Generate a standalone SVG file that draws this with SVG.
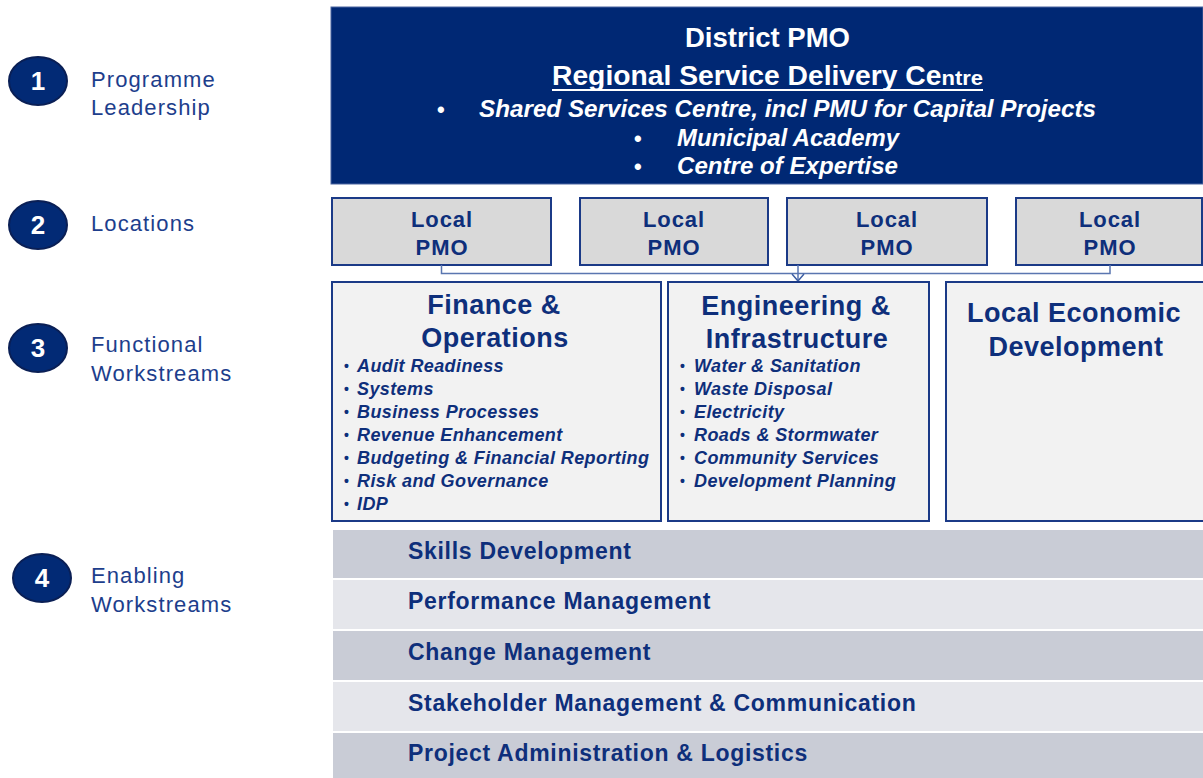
<svg xmlns="http://www.w3.org/2000/svg" width="1203" height="778" viewBox="0 0 1203 778">
  <defs>
    <style>
      .lbl { font-family: "Liberation Sans", Arial, sans-serif; font-size: 22px; fill: #1d3e8c; letter-spacing: 1.1px; }
      .num { font-family: "Liberation Sans", Arial, sans-serif; font-size: 26px; font-weight: bold; fill: #ffffff; text-anchor: middle; }
      .badge { fill: #022a75; stroke: #0a1f55; stroke-width: 2; }
      .hdr { font-family: "Liberation Sans", Arial, sans-serif; font-weight: bold; fill: #ffffff; }
      .hdr-i { font-family: "Liberation Sans", Arial, sans-serif; font-weight: bold; font-style: italic; font-size: 24px; fill: #ffffff; }
      .pmo { fill: #d9d9d9; stroke: #1b3a87; stroke-width: 2; }
      .pmo-t { font-family: "Liberation Sans", Arial, sans-serif; font-size: 22px; font-weight: bold; fill: #0e2f7b; text-anchor: middle; letter-spacing: 0.9px; }
      .ws { fill: #f2f2f2; stroke: #1b3a87; stroke-width: 2; }
      .ws-t { font-family: "Liberation Sans", Arial, sans-serif; font-size: 27px; font-weight: bold; fill: #0e2f7b; text-anchor: middle; letter-spacing: 0.5px; }
      .item { font-family: "Liberation Sans", Arial, sans-serif; font-size: 18px; font-weight: bold; font-style: italic; fill: #0e2f7b; letter-spacing: 0.4px; }
      .dot { font-family: "Liberation Sans", Arial, sans-serif; font-size: 14px; font-weight: bold; fill: #0e2f7b; }
      .bar-d { fill: #c9ccd6; }
      .bar-l { fill: #e5e6eb; }
      .bar-t { font-family: "Liberation Sans", Arial, sans-serif; font-size: 23px; font-weight: bold; fill: #0e2f7b; letter-spacing: 0.7px; }
      .conn { fill: none; stroke: #5a76b0; stroke-width: 1.5; }
    </style>
    <marker id="chevron" viewBox="-1 -7 9 14" refX="7" refY="0" markerWidth="9" markerHeight="14" markerUnits="userSpaceOnUse" orient="auto">
      <path d="M0,-6 L7,0 L0,6" fill="none" stroke="#3d5ea3" stroke-width="1.5"/>
    </marker>
  </defs>

  <rect width="1203" height="778" fill="#ffffff"/>

  <!-- Left-hand legend: numbered levels -->
  <g id="level-1">
    <ellipse class="badge" cx="38" cy="81" rx="29" ry="24"/>
    <text class="num" x="38" y="90">1</text>
    <text class="lbl" x="91" y="87">Programme</text>
    <text class="lbl" x="91" y="115">Leadership</text>
  </g>
  <g id="level-2">
    <ellipse class="badge" cx="38" cy="225" rx="29" ry="24"/>
    <text class="num" x="38" y="234">2</text>
    <text class="lbl" x="91" y="231">Locations</text>
  </g>
  <g id="level-3">
    <ellipse class="badge" cx="38" cy="348" rx="29" ry="24"/>
    <text class="num" x="38" y="357">3</text>
    <text class="lbl" x="91" y="352">Functional</text>
    <text class="lbl" x="91" y="381">Workstreams</text>
  </g>
  <g id="level-4">
    <ellipse class="badge" cx="42" cy="578" rx="29" ry="24"/>
    <text class="num" x="42" y="587">4</text>
    <text class="lbl" x="91" y="583">Enabling</text>
    <text class="lbl" x="91" y="612">Workstreams</text>
  </g>

  <!-- District PMO header -->
  <g id="district-pmo">
    <rect x="331" y="7" width="872" height="177" fill="#002874" stroke="#4a64a0" stroke-width="1"/>
    <text class="hdr" x="685" y="47" font-size="27" textLength="165" lengthAdjust="spacingAndGlyphs">District PMO</text>
    <text class="hdr" x="552" y="85" font-size="27" textLength="431" lengthAdjust="spacingAndGlyphs">Regional Service Delivery Ce<tspan font-size="21">ntre</tspan></text>
    <line x1="552" y1="90" x2="983" y2="90" stroke="#ffffff" stroke-width="2"/>
    <text class="hdr" x="437" y="117" font-size="22">•</text>
    <text class="hdr-i" x="479" y="117" textLength="617" lengthAdjust="spacingAndGlyphs">Shared Services Centre, incl PMU for Capital Projects</text>
    <text class="hdr" x="634" y="146" font-size="22">•</text>
    <text class="hdr-i" x="677" y="146" textLength="222" lengthAdjust="spacingAndGlyphs">Municipal Academy</text>
    <text class="hdr" x="634" y="174" font-size="22">•</text>
    <text class="hdr-i" x="677" y="174" textLength="221" lengthAdjust="spacingAndGlyphs">Centre of Expertise</text>
  </g>

  <!-- Local PMOs -->
  <g id="local-pmo-1">
    <rect class="pmo" x="332" y="198" width="219" height="67"/>
    <text class="pmo-t" x="442" y="227">Local</text>
    <text class="pmo-t" x="442" y="255">PMO</text>
  </g>
  <g id="local-pmo-2">
    <rect class="pmo" x="580" y="198" width="188" height="67"/>
    <text class="pmo-t" x="674" y="227">Local</text>
    <text class="pmo-t" x="674" y="255">PMO</text>
  </g>
  <g id="local-pmo-3">
    <rect class="pmo" x="787" y="198" width="200" height="67"/>
    <text class="pmo-t" x="887" y="227">Local</text>
    <text class="pmo-t" x="887" y="255">PMO</text>
  </g>
  <g id="local-pmo-4">
    <rect class="pmo" x="1016" y="198" width="186" height="67"/>
    <text class="pmo-t" x="1110" y="227">Local</text>
    <text class="pmo-t" x="1110" y="255">PMO</text>
  </g>

  <!-- Connectors between local PMOs and the workstreams -->
  <g id="connectors">
    <path class="conn" d="M441.5,265 V273.5 H1110 V265"/>
    <line class="conn" x1="798" y1="265" x2="798" y2="281" marker-end="url(#chevron)"/>
  </g>

  <!-- Functional workstreams -->
  <g id="finance-operations">
    <rect class="ws" x="332" y="282" width="329" height="239"/>
    <text class="ws-t" x="494" y="314">Finance &amp;</text>
    <text class="ws-t" x="495" y="347">Operations</text>
    <g class="dot">
      <text x="344" y="371">•</text><text x="344" y="394">•</text><text x="344" y="417">•</text>
      <text x="344" y="440">•</text><text x="344" y="463">•</text><text x="344" y="486">•</text>
      <text x="344" y="509">•</text>
    </g>
    <text class="item" x="357" y="372">Audit Readiness</text>
    <text class="item" x="357" y="395">Systems</text>
    <text class="item" x="357" y="418">Business Processes</text>
    <text class="item" x="357" y="441">Revenue Enhancement</text>
    <text class="item" x="357" y="464">Budgeting &amp; Financial Reporting</text>
    <text class="item" x="357" y="487">Risk and Governance</text>
    <text class="item" x="357" y="510">IDP</text>
  </g>
  <g id="engineering-infrastructure">
    <rect class="ws" x="668" y="282" width="261" height="239"/>
    <text class="ws-t" x="796" y="315">Engineering &amp;</text>
    <text class="ws-t" x="797" y="348">Infrastructure</text>
    <g class="dot">
      <text x="680" y="371">•</text><text x="680" y="394">•</text><text x="680" y="417">•</text>
      <text x="680" y="440">•</text><text x="680" y="463">•</text><text x="680" y="486">•</text>
    </g>
    <text class="item" x="694" y="372">Water &amp; Sanitation</text>
    <text class="item" x="694" y="395">Waste Disposal</text>
    <text class="item" x="694" y="418">Electricity</text>
    <text class="item" x="694" y="441">Roads &amp; Stormwater</text>
    <text class="item" x="694" y="464">Community Services</text>
    <text class="item" x="694" y="487">Development Planning</text>
  </g>
  <g id="local-economic-development">
    <rect class="ws" x="946" y="282" width="270" height="239"/>
    <text class="ws-t" x="1074" y="322" font-size="28">Local Economic</text>
    <text class="ws-t" x="1076" y="356" font-size="28">Development</text>
  </g>

  <!-- Enabling workstreams -->
  <g id="skills-development">
    <rect class="bar-d" x="333" y="530" width="870" height="48"/>
    <text class="bar-t" x="408" y="559">Skills Development</text>
  </g>
  <g id="performance-management">
    <rect class="bar-l" x="333" y="580" width="870" height="49"/>
    <text class="bar-t" x="408" y="609">Performance Management</text>
  </g>
  <g id="change-management">
    <rect class="bar-d" x="333" y="631" width="870" height="49"/>
    <text class="bar-t" x="408" y="660">Change Management</text>
  </g>
  <g id="stakeholder-management">
    <rect class="bar-l" x="333" y="682" width="870" height="49"/>
    <text class="bar-t" x="408" y="711">Stakeholder Management &amp; Communication</text>
  </g>
  <g id="project-administration">
    <rect class="bar-d" x="333" y="733" width="870" height="45"/>
    <text class="bar-t" x="408" y="761">Project Administration &amp; Logistics</text>
  </g>
</svg>
